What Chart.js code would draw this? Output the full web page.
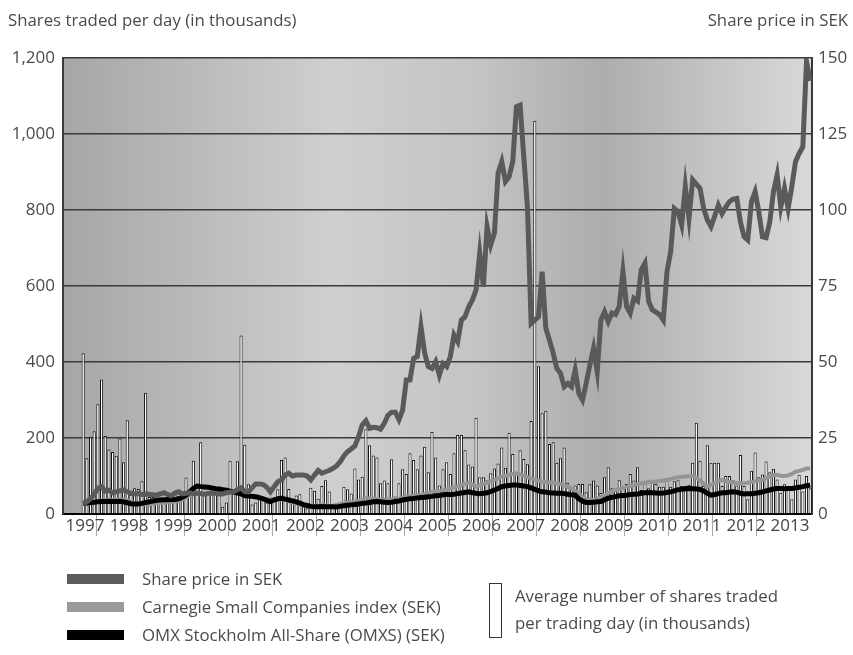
<!DOCTYPE html>
<html><head><meta charset="utf-8">
<script src="https://cdn.jsdelivr.net/npm/chart.js@4.4.1/dist/chart.umd.min.js"></script>
<style>
html,body{margin:0;padding:0;background:#fff;}
#wrap{position:relative;width:853px;height:655px;font-family:'Open Sans',sans-serif;color:#4a4a4a;overflow:hidden;}
canvas{position:absolute;left:0;top:0;}
.t{position:absolute;font-size:16.8px;white-space:nowrap;line-height:20px;}
.sw{position:absolute;left:67px;width:57px;height:10px;}
</style></head><body>
<div id="wrap">
<canvas id="c" width="853" height="655"></canvas>
<div class="t" style="left:8px;top:10px;">Shares traded per day (in thousands)</div>
<div class="t" style="right:5px;top:10px;">Share price in SEK</div>
<div class="sw" style="top:574px;background:#5c5c5c;"></div>
<div class="t" style="left:142px;top:569px;">Share price in SEK</div>
<div class="sw" style="top:602px;background:#9a9a9a;"></div>
<div class="t" style="left:142px;top:597px;">Carnegie Small Companies index (SEK)</div>
<div class="sw" style="top:630px;background:#000;"></div>
<div class="t" style="left:142px;top:625px;">OMX Stockholm All-Share (OMXS) (SEK)</div>
<div style="position:absolute;left:489px;top:583px;width:11px;height:53px;border:1px solid #333;background:#fff;"></div>
<div class="t" style="left:515px;top:586px;">Average number of shares traded</div>
<div class="t" style="left:515px;top:613px;">per trading day (in thousands)</div>
</div>
<script>
const years = ['1997','1998','1999','2000','2001','2002','2003','2004','2005','2006','2007','2008','2009','2010','2011','2012','2013'];

const sharesTraded = [
null,null,null,null,null,423,147,202,218,289,354,205,
170,163,153,199,136,247,50,68,66,86,319,45,
45,40,35,40,45,50,55,45,50,96,60,140,
70,189,55,60,65,55,60,19,30,140,60,139,
470,182,78,25,30,45,40,30,45,45,65,142,
149,66,35,49,52,20,15,69,61,40,74,89,
59,25,20,20,72,65,54,120,91,98,223,181,
154,149,81,88,81,144,46,81,118,105,160,142,
118,154,177,110,216,149,75,118,136,105,160,208,
208,168,130,125,253,97,97,89,107,120,133,175,
122,214,158,109,168,145,131,245,1035,389,265,272,
184,189,135,147,175,82,65,75,79,79,57,78,
88,75,55,97,123,68,60,89,68,79,105,88,
123,63,81,68,88,79,72,72,94,72,86,89,
74,74,77,135,240,140,74,181,135,135,135,74,
100,100,89,75,155,74,39,114,162,97,104,138,
110,119,91,56,78,74,39,91,103,59,100,68
];

const sharePrice = [
null,null,null,null,null,3.5,4.0,5.0,6.5,8.5,9.0,7.5,
7.8,7.0,7.3,7.6,7.9,7.3,6.8,6.6,6.7,6.4,6.6,6.5,
6.3,6.2,6.6,7.0,6.4,6.0,6.9,7.3,6.6,6.8,7.0,6.6,
6.9,6.7,6.5,6.7,6.9,6.8,6.6,6.6,7.0,7.2,7.3,8.0,
8.6,7.4,7.3,8.6,9.9,9.9,9.7,8.8,7.3,9.0,10.6,11.2,
12.8,13.4,12.5,12.8,12.8,12.8,12.5,11.2,12.8,14.3,13.4,13.9,
14.3,15.0,15.8,17.2,19.1,20.5,21.4,22.4,25.4,29.3,30.7,28.2,
28.5,28.4,27.9,29.8,32.5,33.5,33.5,31.0,34.2,44.1,44.1,51.2,
51.8,61.6,52.9,48.5,47.9,50.1,45.7,49.5,48.5,51.8,58.9,56.7,
63.8,64.9,68.2,70.4,73.7,85.8,74.8,94.6,88.5,92.4,112.1,115.9,
109.4,111.0,115.9,134.0,134.5,117.5,101.0,62.7,63.8,64.9,79.7,61.1,
57.2,52.9,47.9,46.3,41.9,43.0,41.9,47.4,39.7,37.5,43.0,49.0,
54.5,46.8,63.8,66.5,63.3,66.1,65.6,68.3,79.7,68.3,66.1,71.0,
70.1,80.3,82.5,70.0,67.2,66.4,65.6,63.8,79.7,86.3,100.5,99.5,
95.1,107.7,97.3,109.9,108.5,107.1,100.5,96.7,94.5,98.0,101.6,98.8,
101.0,102.7,103.6,103.8,96.1,91.2,90.1,102.7,106.0,99.5,91.2,90.9,
96.1,106.0,111.5,101.0,107.1,100.5,107.7,115.9,118.6,120.8,148.8,142.5
];

const carnegie = [
null,null,null,null,null,3.5,3.5,3.6,3.9,4.2,4.4,4.5,
4.6,4.7,4.8,4.7,4.8,4.5,4.0,3.5,3.3,3.2,3.3,3.2,
3.4,3.5,3.6,3.8,3.9,4.0,4.1,4.3,4.8,5.5,6.2,6.4,
6.6,6.8,6.7,6.6,6.6,6.7,6.7,6.8,6.9,7.1,7.3,8.4,
7.6,7.0,6.2,5.7,5.3,5.1,4.9,4.8,5.0,4.8,4.9,4.8,
4.8,4.2,3.8,3.4,3.0,2.8,2.6,2.4,2.6,2.8,3.0,2.8,
2.6,2.7,3.0,3.3,3.5,3.7,3.9,4.1,4.4,4.8,5.2,5.1,
5.0,4.9,4.8,4.8,4.9,4.8,4.8,5.0,5.3,5.7,5.8,6.0,
6.1,6.3,6.6,6.9,7.2,7.4,7.6,7.8,8.1,8.4,8.8,9.1,
9.5,10.0,10.3,9.6,9.0,9.4,9.9,10.3,10.8,11.2,11.7,12.3,
12.6,12.9,13.2,13.4,13.0,12.6,12.1,11.7,11.4,11.0,10.6,10.5,
10.4,10.3,10.1,9.8,9.4,9.0,8.4,7.6,6.8,5.6,4.8,4.7,
4.6,5.0,5.6,6.3,6.9,7.5,7.9,8.2,8.6,9.0,9.2,9.5,
9.8,10.1,10.3,10.5,10.6,10.7,10.9,11.0,11.2,11.5,11.8,12.1,
12.2,12.3,12.4,12.5,12.0,11.0,10.0,9.0,9.6,10.2,10.8,11.2,
10.8,10.5,10.4,10.2,10.1,10.1,10.3,10.5,10.8,11.1,11.2,11.8,
12.4,12.8,12.8,12.6,12.5,12.7,13.2,13.9,14.2,14.5,15.0,15.0
];

const omx = [
null,null,null,null,null,3.5,3.6,3.8,3.9,4.0,4.1,4.1,
4.2,4.1,4.1,4.2,4.0,3.7,3.4,3.3,3.3,3.5,3.8,4.0,
4.3,4.5,4.6,4.7,4.7,4.8,4.8,5.0,5.5,6.2,7.3,8.4,
9.2,9.0,8.9,8.8,8.6,8.3,8.2,8.0,7.8,7.5,7.2,6.9,
6.6,6.1,5.9,5.8,5.7,5.4,5.0,4.5,4.1,4.6,5.0,5.2,
4.9,4.6,4.3,4.0,3.6,3.1,2.8,2.5,2.4,2.4,2.5,2.4,
2.4,2.4,2.3,2.5,2.7,2.9,3.0,3.1,3.3,3.5,3.6,3.8,
4.0,4.1,4.0,3.9,3.8,3.9,4.1,4.3,4.6,4.8,5.0,5.1,
5.3,5.4,5.5,5.7,5.8,6.0,6.1,6.3,6.4,6.4,6.5,6.7,
6.9,7.1,7.3,7.0,6.8,6.7,6.8,7.0,7.4,7.9,8.4,9.0,
9.2,9.4,9.5,9.5,9.4,9.2,9.0,8.6,8.1,7.6,7.3,7.2,
7.0,6.9,6.8,6.8,6.7,6.5,6.3,6.2,5.0,4.2,3.8,3.8,
3.9,4.0,4.1,4.7,5.2,5.5,5.7,6.0,6.1,6.2,6.4,6.5,
6.6,6.8,7.0,7.1,7.0,6.9,6.8,6.9,7.1,7.3,7.6,8.0,
8.1,8.3,8.4,8.3,8.2,8.1,7.6,6.8,6.2,6.4,6.7,7.0,
7.0,7.2,7.3,7.2,6.8,6.6,6.7,6.7,6.8,7.0,7.3,7.6,
7.9,8.2,8.4,8.4,8.3,8.4,8.4,8.6,8.8,9.0,9.3,9.5
];

const toPoints = arr => arr.map((v, i) => ({x: i + 0.5, y: v}));
const monthCount = years.length * 12;
const xTickValues = [];
for (let k = 0; k <= years.length * 2; k++) xTickValues.push(k * 6);

const bgPlugin = {
  id: 'bg',
  beforeDraw(chart) {
    const {ctx, chartArea: a} = chart;
    const g = ctx.createLinearGradient(a.left, 0, a.right, 0);
    g.addColorStop(0, '#a6a6a6');
    g.addColorStop(0.36, '#cfcfcf');
    g.addColorStop(0.55, '#c3c4c4');
    g.addColorStop(0.72, '#acadae');
    g.addColorStop(1, '#d9d9d9');
    ctx.save();
    ctx.fillStyle = g;
    ctx.fillRect(a.left, a.top, a.right - a.left, a.bottom - a.top);
    ctx.restore();
  }
};

Chart.defaults.font.family = "'Open Sans', sans-serif";
Chart.defaults.color = '#4a4a4a';

new Chart(document.getElementById('c'), {
  type: 'bar',
  data: {
    datasets: [
      {type:'line', label:'Share price in SEK', data: toPoints(sharePrice), yAxisID:'y2', borderColor:'#5a5a5a', borderWidth:5, pointRadius:0, tension:0, borderJoinStyle:'miter', order:1},
      {type:'line', label:'OMX Stockholm All-Share (OMXS) (SEK)', data: toPoints(omx), yAxisID:'y2', borderColor:'#000000', borderWidth:5, pointRadius:0, tension:0, order:2},
      {type:'line', label:'Carnegie Small Companies index (SEK)', data: toPoints(carnegie), yAxisID:'y2', borderColor:'#959595', borderWidth:4, pointRadius:0, tension:0, order:3},
      {type:'bar', label:'Average number of shares traded per trading day (in thousands)', data: toPoints(sharesTraded), yAxisID:'y', backgroundColor:'#ffffff', borderColor:'#111111', borderWidth:1, barPercentage:0.85, categoryPercentage:1.0, order:4}
    ]
  },
  options: {
    responsive:false,
    animation:false,
    layout:{padding:{top:58, bottom:113, left:0, right:0}},
    plugins:{legend:{display:false}, tooltip:{enabled:false}},
    scales:{
      x:{
        type:'linear', min:0, max:monthCount, offset:false, position:'bottom',
        afterBuildTicks: s => { s.ticks = xTickValues.map(v => ({value:v})); },
        afterFit: s => { s.height = 28; },
        grid:{display:true, drawOnChartArea:false, drawTicks:true, tickLength:22, lineWidth:1,
          tickColor: c => (c.tick && c.tick.value % 12 === 0 && c.tick.value > 0 && c.tick.value < monthCount) ? '#a8a8a8' : 'rgba(0,0,0,0)'},
        border:{display:true, color:'#000', width:2},
        ticks:{autoSkip:false, maxRotation:0, padding:-20, color:'#444', font:{size:17},
          callback: v => (v % 12 === 6) ? years[(v - 6) / 12] : ''}
      },
      y:{
        position:'left', min:0, max:1200,
        afterFit: s => { s.width = 63; },
        ticks:{stepSize:200, padding:8, color:'#4a4a4a', font:{size:17}, callback: v => v.toLocaleString('en-US')},
        grid:{color:'#3a3a3a', lineWidth:1.5, drawTicks:false},
        border:{display:true, color:'#3a3a3a', width:2}
      },
      y2:{
        position:'right', min:0, max:150,
        afterFit: s => { s.width = 41; },
        ticks:{stepSize:25, padding:6, color:'#4a4a4a', font:{size:17}},
        grid:{drawOnChartArea:false, drawTicks:false},
        border:{display:true, color:'#3a3a3a', width:2}
      }
    }
  },
  plugins:[bgPlugin]
});
</script>
</body></html>
